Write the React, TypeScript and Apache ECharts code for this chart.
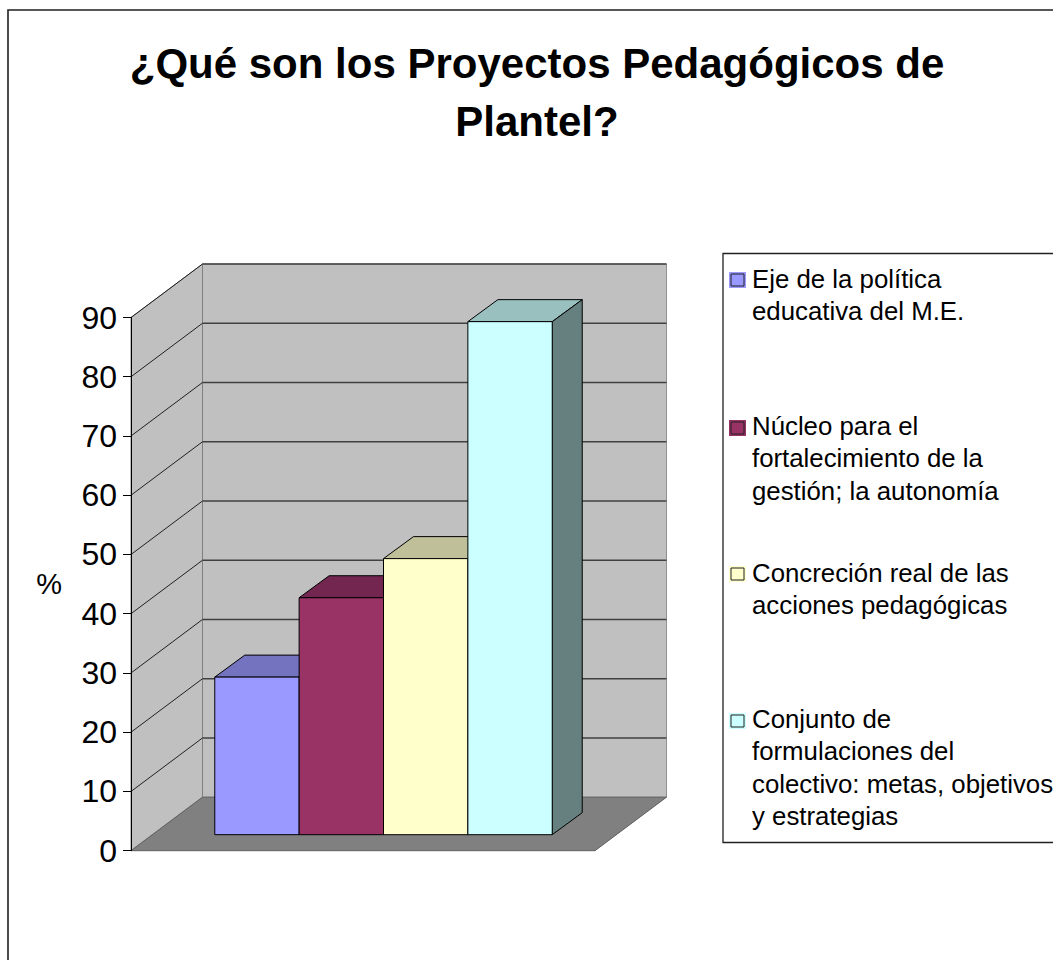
import React, { useEffect, useRef } from "react";
import * as echarts from "echarts";

const TITLE = "¿Qué son los Proyectos Pedagógicos de\nPlantel?";
const seriesNames = [
  "Eje de la política\neducativa del M.E.",
  "Núcleo para el\nfortalecimiento de la\ngestión; la autonomía",
  "Concreción real de las\nacciones pedagógicas",
  "Conjunto de\nformulaciones del\ncolectivo: metas, objetivos\ny estrategias",
];
const seriesValues = [26.6, 40, 46.6, 86.6];
const frontColors = ["#9999FF", "#993366", "#FFFFCC", "#CCFFFF"];
const topColors = ["#7373BF", "#732650", "#BFBF99", "#99BFBF"];
const sideColors = ["#4D4D80", "#4D1A33", "#808066", "#668080"];
const yTicks = [10, 20, 30, 40, 50, 60, 70, 80, 90];
const FONT = "'Liberation Sans', Arial, sans-serif";

const X_MIN = -0.75;
const X_MAX = 4.75;
const WALL_DX = 71.5;
const WALL_DY = -53.5;
const BAR_OFF_X = 20.5;
const BAR_OFF_Y = -16;
const BAR_DEPTH_X = 30;
const BAR_DEPTH_Y = -22;

const shift = (p: number[], dx: number, dy: number) => [p[0] + dx, p[1] + dy];

const poly = (points: number[][], fill: string, stroke: string, lineWidth = 1) => ({
  type: "polygon",
  shape: { points },
  style: { fill, stroke, lineWidth },
});
const seg = (a: number[], b: number[], stroke: string, lineWidth = 1) => ({
  type: "line",
  shape: { x1: a[0], y1: a[1], x2: b[0], y2: b[1] },
  style: { stroke, lineWidth },
});

function renderWalls(_p: any, api: any) {
  const fl = api.coord([X_MIN, 0]);
  const fr = api.coord([X_MAX, 0]);
  const tl = api.coord([X_MIN, 90]);
  const bl = shift(fl, WALL_DX, WALL_DY);
  const br = shift(fr, WALL_DX, WALL_DY);
  const ttl = shift(tl, WALL_DX, WALL_DY);
  const ttr = [br[0], ttl[1]];
  const children: any[] = [
    poly([ttl, ttr, br, bl], "#C0C0C0", "#909090"),
    poly([tl, ttl, bl, fl], "#C0C0C0", "#808080"),
    poly([fl, bl, br, fr], "#808080", "#606060"),
  ];
  yTicks.forEach((v) => {
    const a = api.coord([X_MIN, v]);
    const b = shift(a, WALL_DX, WALL_DY);
    const c = [br[0], b[1]];
    children.push(seg(a, b, "#202020"), seg(b, c, "#404040", 1.4));
  });
  return { type: "group", children };
}

function makeBarRender(i: number) {
  return (_p: any, api: any) => {
    const idx = api.value(0);
    const val = api.value(1);
    const a = shift(api.coord([idx, val]), BAR_OFF_X, BAR_OFF_Y);
    const b = shift(api.coord([idx + 1, val]), BAR_OFF_X, BAR_OFF_Y);
    const c = shift(api.coord([idx + 1, 0]), BAR_OFF_X, BAR_OFF_Y);
    const d = shift(api.coord([idx, 0]), BAR_OFF_X, BAR_OFF_Y);
    const back = (p: number[]) => shift(p, BAR_DEPTH_X, BAR_DEPTH_Y);
    return {
      type: "group",
      children: [
        poly([a, back(a), back(b), b], topColors[i], "#000000"),
        poly([b, back(b), back(c), c], sideColors[i], "#000000"),
        poly([a, b, c, d], frontColors[i], "#000000"),
      ],
    };
  };
}

const MARKER_X = 729;
const MARKER_TOPS = [272, 420, 566, 713];
const TEXT_TOPS = [263, 410, 556.5, 703];
const legendGraphics = seriesNames.flatMap((name, i) => [
  {
    type: "rect",
    shape: { x: MARKER_X, y: MARKER_TOPS[i], width: 17, height: 16 },
    style: { fill: frontColors[i], stroke: "none" },
    z: 10,
  },
  {
    type: "rect",
    shape: { x: MARKER_X + 2, y: MARKER_TOPS[i] + 2, width: 13, height: 12 },
    style: { fill: frontColors[i], stroke: "#202020", lineWidth: 1 },
    z: 10,
  },
  {
    type: "text",
    x: 752,
    y: TEXT_TOPS[i],
    style: {
      text: name,
      fontSize: 25.8,
      lineHeight: 32.2,
      fontFamily: FONT,
      fill: "#000000",
      align: "left",
      verticalAlign: "top",
    },
    z: 10,
  },
]);

export default function App() {
  const ref = useRef<HTMLDivElement>(null);
  useEffect(() => {
    const chart = echarts.init(ref.current!, undefined, { renderer: "svg" });
    chart.setOption({
      animation: false,
      backgroundColor: "#FFFFFF",
      title: {
        text: TITLE,
        left: 532,
        top: 29,
        textAlign: "center",
        textStyle: {
          fontFamily: FONT,
          fontWeight: "bold",
          fontSize: 42,
          lineHeight: 58,
          color: "#000000",
        },
      },
      grid: { left: 131, top: 317.5, width: 464, height: 533.2 },
      xAxis: { type: "value", min: X_MIN, max: X_MAX, show: false },
      yAxis: {
        type: "value",
        min: 0,
        max: 90,
        interval: 10,
        z: 5,
        name: "%",
        nameLocation: "middle",
        nameGap: 69,
        nameRotate: 0,
        nameTextStyle: { fontFamily: FONT, fontSize: 29, color: "#000000", padding: [6, 0, 0, 0] },
        axisLine: { show: true, onZero: false, lineStyle: { color: "#000000", width: 1 } },
        axisTick: { show: true, length: 8, lineStyle: { color: "#000000", width: 1 } },
        axisLabel: { fontFamily: FONT, fontSize: 32, color: "#000000", margin: 14 },
        splitLine: { show: false },
      },
      graphic: [
        {
          type: "rect",
          shape: { x: 8, y: 10, width: 1100, height: 1000 },
          style: { fill: "none", stroke: "#202020", lineWidth: 1.6 },
          z: -1,
        },
        {
          type: "rect",
          shape: { x: 723, y: 253.5, width: 400, height: 589 },
          style: { fill: "#FFFFFF", stroke: "#202020", lineWidth: 1.3 },
          z: 9,
        },
        ...legendGraphics,
      ],
      series: [
        { type: "custom", name: "walls", silent: true, renderItem: renderWalls, data: [[0, 0]] },
        ...seriesNames.map((name, i) => ({
          type: "custom",
          name,
          renderItem: makeBarRender(i),
          data: [[i, seriesValues[i]]],
          encode: { x: 0, y: 1 },
        })),
      ],
    });
    return () => chart.dispose();
  }, []);
  return <div ref={ref} style={{ position: "absolute", left: 0, top: 0, width: 1053, height: 960 }} />;
}
